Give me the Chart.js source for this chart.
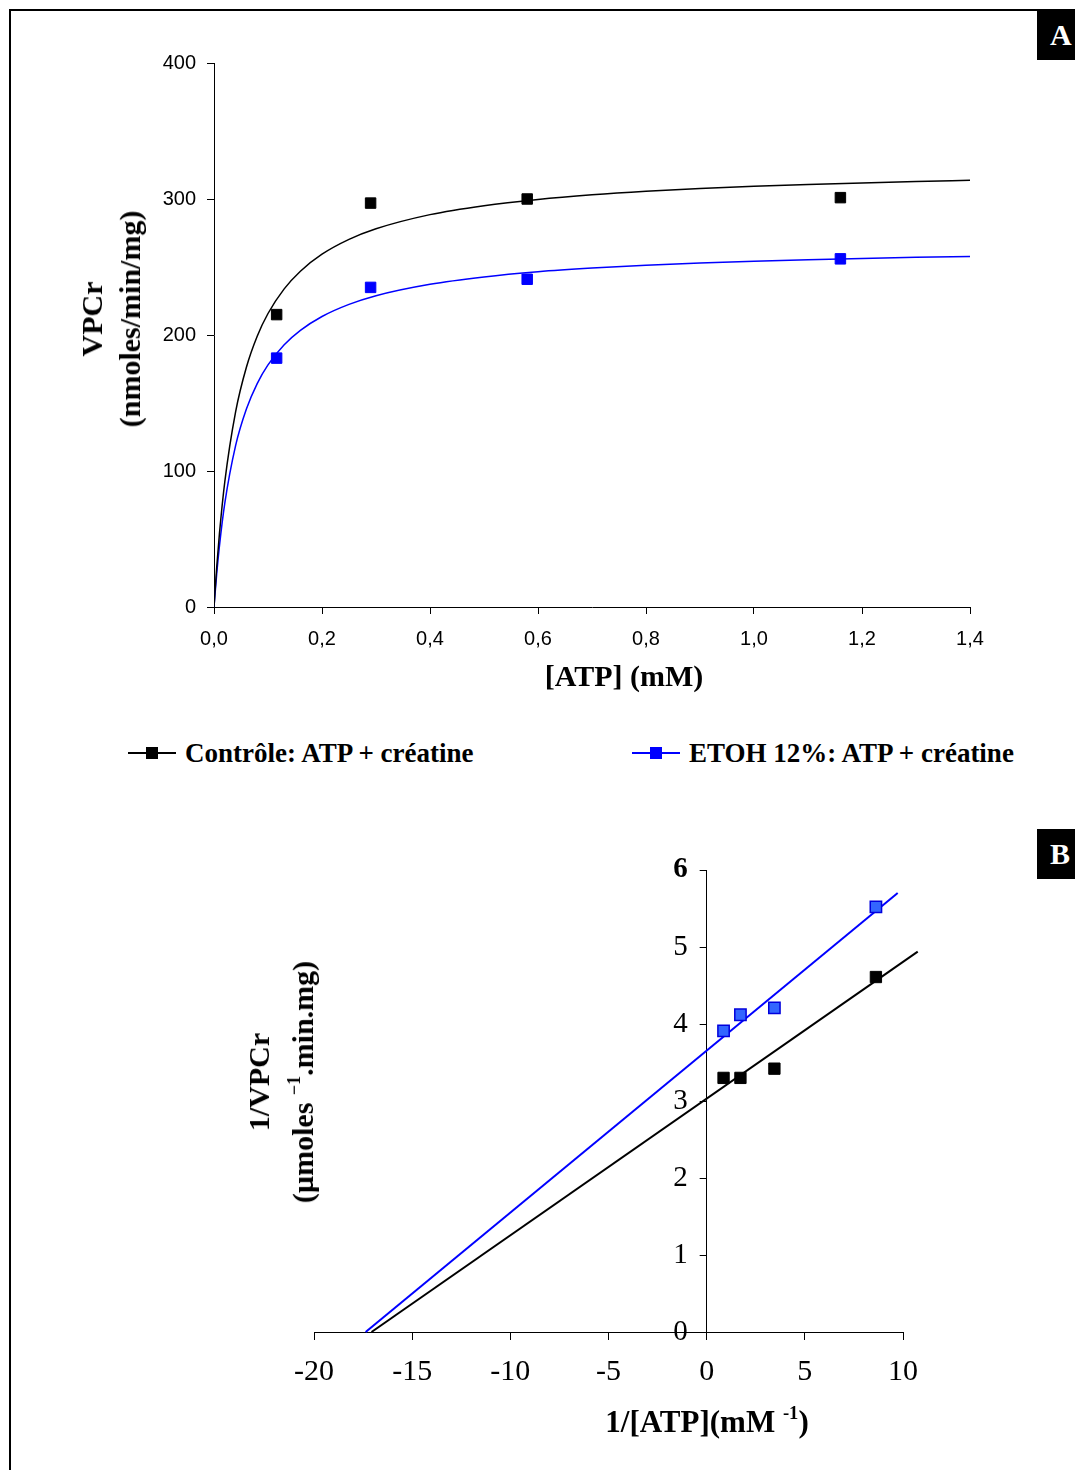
<!DOCTYPE html>
<html>
<head>
<meta charset="utf-8">
<script src="https://cdn.jsdelivr.net/npm/chart.js@4.4.1/dist/chart.umd.min.js"></script>
<style>
  body { margin:0; width:1075px; height:1470px; overflow:hidden; background:#fff; position:relative; font-family:"Liberation Serif", serif; color:#000; }
  .abs { position:absolute; }
  #frame { left:9px; top:9px; width:1200px; height:1600px; border:2px solid #000; }
  .tag { background:#000; color:#fff; font-weight:bold; font-size:30px; width:40px; height:50px; line-height:50px; padding-left:13px; box-sizing:border-box; }
  .title { font-weight:bold; white-space:nowrap; text-align:center; }
  .rot { transform:translate(-50%,-50%) rotate(-90deg); }
  .ctr { transform:translate(-50%,-50%); }
  .leg { display:flex; align-items:center; height:32px; font-weight:bold; font-size:27px; white-space:nowrap; }
  .mk { position:relative; width:48px; height:2px; margin-right:9px; }
  .mk span { position:absolute; left:18px; top:-5px; width:12px; height:12px; }
  sup { font-size:60%; line-height:0; vertical-align:0.7em; }
</style>
</head>
<body>
<div id="frame" class="abs"></div>
<div class="abs tag" style="left:1037px;top:10px">A</div>
<div class="abs tag" style="left:1037px;top:829px">B</div>

<canvas id="chartA" class="abs" width="1075" height="700" style="left:0;top:0"></canvas>
<canvas id="chartB" class="abs" width="1075" height="680" style="left:0;top:790px"></canvas>

<!-- axis titles and legend -->
<div class="abs title rot" style="left:111px;top:319px;font-size:30px;line-height:38px">VPCr<br>(nmoles/min/mg)</div>
<div class="abs title ctr" style="left:624px;top:676px;font-size:30px">[ATP] (mM)</div>
<div class="abs leg" style="left:128px;top:737px"><div class="mk" style="background:#000"><span style="background:#000"></span></div>Contrôle: ATP + créatine</div>
<div class="abs leg" style="left:632px;top:737px"><div class="mk" style="background:#0000ff"><span style="background:#0000ff"></span></div>ETOH 12%: ATP + créatine</div>
<div class="abs title rot" style="left:281px;top:1082px;font-size:30px;line-height:44px">1/VPCr<br>(µmoles <sup>−1</sup>.min.mg)</div>
<div class="abs title ctr" style="left:707px;top:1422px;font-size:31px">1/[ATP](mM <sup>-1</sup>)</div>

<script>
// panel A : rate vs [ATP]
const atpConc = [0.116, 0.29, 0.58, 1.16];
const ctrlRate = [215, 297, 300, 301];
const etohRate = [183, 235, 241, 256];
// fitted curves
const curveConc = [0, 0.005, 0.01, 0.02, 0.04, 0.06, 0.08, 0.1, 0.13, 0.16, 0.2, 0.25, 0.3, 0.4, 0.5, 0.6, 0.7, 0.8, 0.9, 1.0, 1.1, 1.2, 1.3, 1.4];
const ctrlCurve = [0, 29.2, 53.6, 92.1, 143.5, 176.3, 199.1, 215.8, 233.9, 246.9, 259.4, 270.3, 278.1, 288.5, 295.1, 299.7, 303.1, 305.7, 307.7, 309.3, 310.7, 311.8, 312.8, 313.7];
const etohCurve = [0, 24.3, 44.5, 76.3, 118.7, 145.6, 164.3, 178, 192.8, 203.4, 213.6, 222.5, 228.9, 237.3, 242.7, 246.5, 249.2, 251.3, 252.9, 254.3, 255.4, 256.3, 257.1, 257.8];
const aXTicks = ["0,0", "0,2", "0,4", "0,6", "0,8", "1,0", "1,2", "1,4"];
const aYTicks = ["0", "100", "200", "300", "400"];

// panel B : double reciprocal
const invAtp = [0.86, 1.72, 3.45, 8.62];
const ctrlInv = [3.3, 3.3, 3.42, 4.61];
const etohInv = [3.91, 4.12, 4.21, 5.52];
const ctrlLineX = [-17.07, 10.75];
const ctrlLineY = [0, 4.94];
const etohLineX = [-17.37, 9.73];
const etohLineY = [0, 5.7];
const bXTicks = ["-20", "-15", "-10", "-5", "0", "5", "10"];
const bYTicks = ["0", "1", "2", "3", "4", "5", "6"];

const xy = (xs, ys) => xs.map((x, i) => ({ x: x, y: ys[i] }));

Chart.defaults.font.family = "Liberation Sans";
Chart.defaults.color = "#000";
Chart.defaults.animation = false;

function tickGrid(len) {
  return { display: true, drawOnChartArea: false, drawTicks: true, tickLength: len, color: "#000", lineWidth: 1 };
}

// moves the left y axis of panel B onto x = 0
// (left edge kept wide, labels are clipped to the scale box)
const yAtZero = {
  id: "yAtZero",
  afterLayout(chart) {
    const s = chart.scales.y;
    const px = chart.scales.x.getPixelForValue(0);
    s.left = px - 90;
    s.right = px;
  },
};

const PlotA = document.getElementById("chartA");
const PlotB = document.getElementById("chartB");

new Chart(PlotA, {
  type: "scatter",
  data: {
    datasets: [
      { label: "Contrôle: ATP + créatine", data: xy(atpConc, ctrlRate), pointStyle: "rect", pointRadius: 7.4, backgroundColor: "#000", borderColor: "#000", borderWidth: 1 },
      { label: "ETOH 12%: ATP + créatine", data: xy(atpConc, etohRate), pointStyle: "rect", pointRadius: 7.4, backgroundColor: "#0000ff", borderColor: "#0000ff", borderWidth: 1 },
      { label: "fit contrôle", data: xy(curveConc, ctrlCurve), showLine: true, pointRadius: 0, borderColor: "#000", borderWidth: 1.5, cubicInterpolationMode: "monotone" },
      { label: "fit ETOH", data: xy(curveConc, etohCurve), showLine: true, pointRadius: 0, borderColor: "#0000ff", borderWidth: 1.5, cubicInterpolationMode: "monotone" },
    ],
  },
  options: {
    responsive: false,
    devicePixelRatio: 1,
    layout: { padding: { top: 63, left: 20, right: 105, bottom: 20 } },
    plugins: { legend: { display: false }, tooltip: { enabled: false } },
    scales: {
      x: {
        type: "linear", min: 0, max: 1.4,
        afterFit: (s) => { s.height = 73; },
        grid: tickGrid(7),
        border: { color: "#000", width: 1 },
        ticks: { stepSize: 0.2, padding: 13, maxRotation: 0, autoSkip: false, font: { size: 20 }, callback: (v, i) => aXTicks[i] },
      },
      y: {
        type: "linear", min: 0, max: 400,
        afterFit: (s) => { s.width = 194; },
        grid: tickGrid(7),
        border: { color: "#000", width: 1 },
        ticks: { stepSize: 100, padding: 11, font: { size: 20 }, callback: (v, i) => aYTicks[i] },
      },
    },
  },
});

new Chart(PlotB, {
  type: "scatter",
  plugins: [yAtZero],
  data: {
    datasets: [
      { label: "Contrôle", data: xy(invAtp, ctrlInv), pointStyle: "rect", pointRadius: 8, backgroundColor: "#000", borderColor: "#000", borderWidth: 1 },
      { label: "ETOH 12%", data: xy(invAtp, etohInv), pointStyle: "rect", pointRadius: 8, backgroundColor: "#3366ff", borderColor: "#0000dd", borderWidth: 1.5 },
      { label: "droite contrôle", data: xy(ctrlLineX, ctrlLineY), showLine: true, pointRadius: 0, borderColor: "#000", borderWidth: 2, clip: false },
      { label: "droite ETOH", data: xy(etohLineX, etohLineY), showLine: true, pointRadius: 0, borderColor: "#0000ff", borderWidth: 2, clip: false },
    ],
  },
  options: {
    responsive: false,
    devicePixelRatio: 1,
    layout: { padding: { top: 80, left: 314, right: 172, bottom: 20 } },
    plugins: { legend: { display: false }, tooltip: { enabled: false } },
    scales: {
      x: {
        type: "linear", position: "bottom", min: -20, max: 10,
        afterFit: (s) => { s.height = 118; },
        grid: tickGrid(8),
        border: { color: "#000", width: 1 },
        ticks: { stepSize: 5, padding: 14, maxRotation: 0, autoSkip: false, font: { family: "Liberation Serif", size: 30 }, callback: (v, i) => bXTicks[i] },
      },
      y: {
        type: "linear", position: "left", min: 0, max: 6,
        afterFit: (s) => { s.width = 0; },
        grid: tickGrid(7),
        border: { color: "#000", width: 1 },
        ticks: {
          stepSize: 1, padding: 12,
          font: (c) => ({ family: "Liberation Serif", size: 29, weight: c.tick && c.tick.value === 6 ? "bold" : "normal" }),
          callback: (v, i) => bYTicks[i],
        },
      },
    },
  },
});
</script>
</body>
</html>
